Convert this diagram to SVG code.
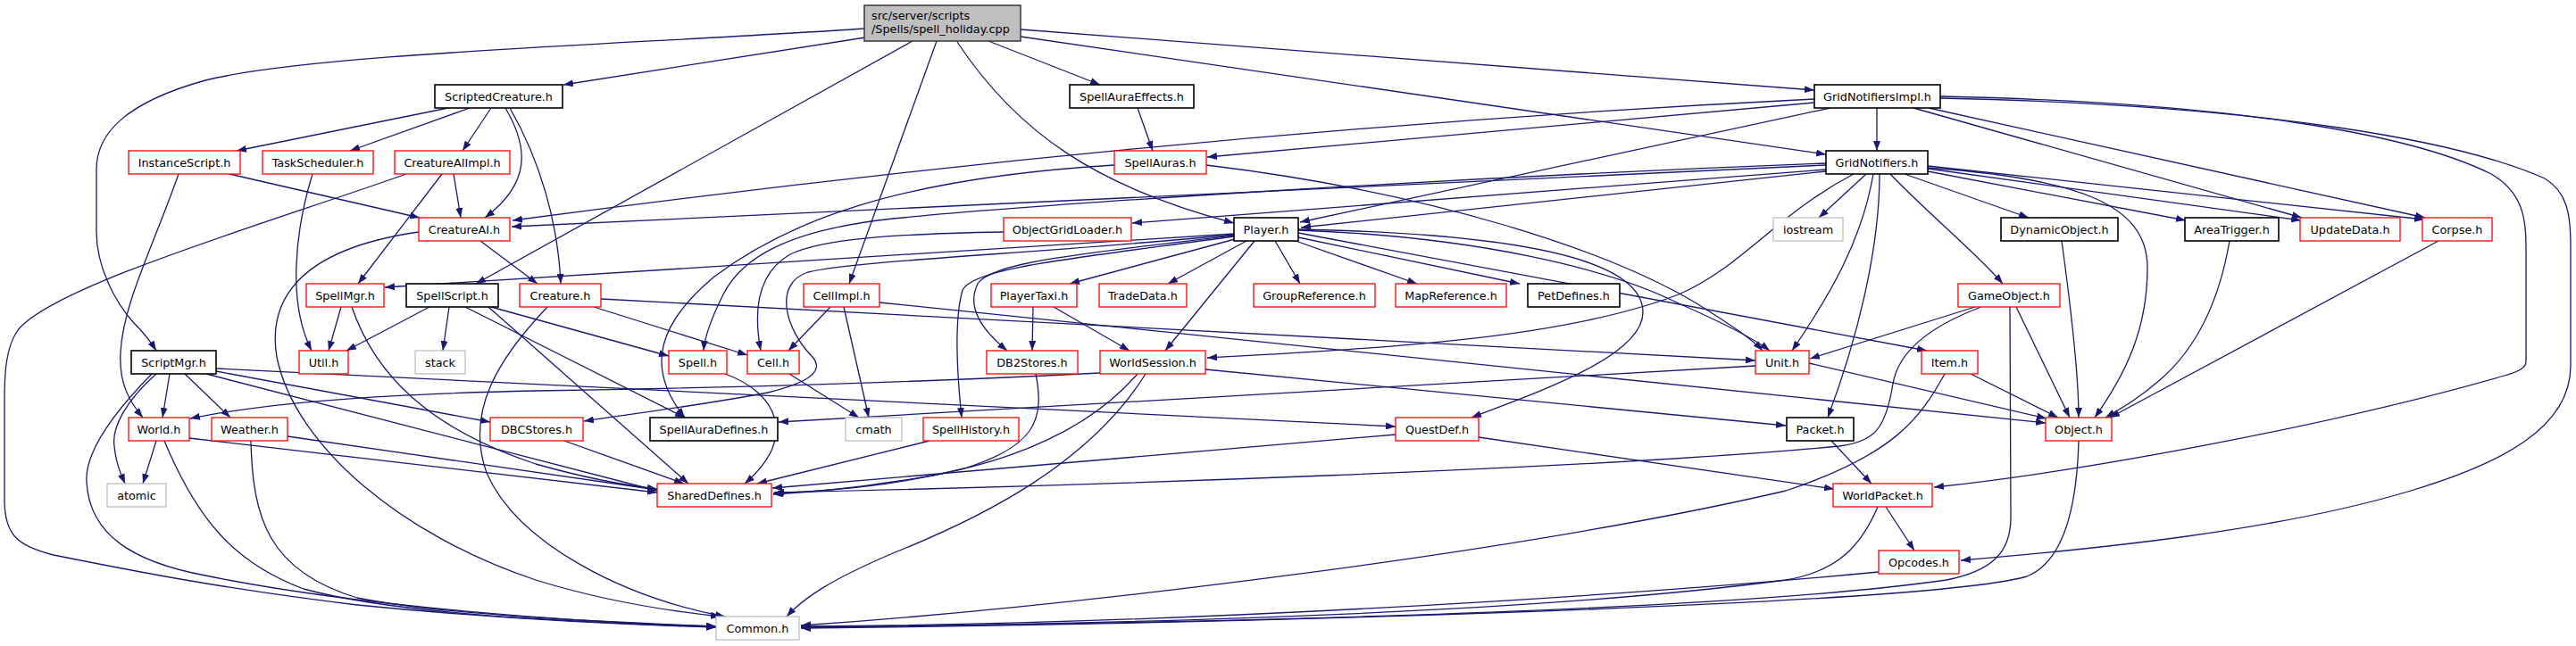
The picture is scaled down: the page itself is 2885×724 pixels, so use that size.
<svg xmlns="http://www.w3.org/2000/svg" width="2885" height="724" viewBox="0 0 2885 724">
<defs>
<marker id="ah" markerUnits="userSpaceOnUse" markerWidth="11" markerHeight="8" refX="11" refY="4" orient="auto" viewBox="0 0 11 8"><path d="M0,0 L11,4 L0,8 Z" fill="#191970"/></marker>
<style>
.n{fill:#fff;stroke-width:1.3}
.k{stroke:#000;stroke-width:1.6}
.r{stroke:#ff0000}
.g{stroke:#bfbfbf}
.root{fill:#bfbfbf;stroke:#404040;stroke-width:1.6}
text{font-family:"DejaVu Sans","Liberation Sans",sans-serif;font-size:12.8px;fill:#000;text-anchor:middle}
.e path{fill:none;stroke:#191970;stroke-width:1.3;marker-end:url(#ah)}
</style>
</defs>
<rect width="2885" height="724" fill="#fff"/>
<g id="connectors" class="e">
<path d="M969,42 L631,95"/>
<path d="M969,32 C700,50 350,60 230,90 C140,115 108,150 108,190 L108,260 C108,300 130,340 150,362 C163,375 170,385 175,393"/>
<path d="M1022,46 L533,318"/>
<path d="M1049,46 L951,318"/>
<path d="M1072,47 C1140,150 1230,210 1382,250"/>
<path d="M1107,46 L1232,95"/>
<path d="M1143,33 L2032,101"/>
<path d="M1143,41 L2045,173"/>
<path d="M502,121 L265,169"/>
<path d="M526,121 L392,169"/>
<path d="M550,121 L518,169"/>
<path d="M566,121 C592,165 595,205 543,244"/>
<path d="M571,121 C605,180 625,250 628,318"/>
<path d="M257,195 L470,244"/>
<path d="M200,195 C170,280 138,340 135,395 C133,430 145,450 160,468"/>
<path d="M350,195 C330,260 322,340 349,393"/>
<path d="M508,195 L516,244"/>
<path d="M495,195 L401,318"/>
<path d="M455,195 C300,250 60,320 20,370 C6,390 5,420 5,450 L5,560 C5,600 20,612 60,622 C150,640 250,660 400,678 C550,693 700,700 802,703"/>
<path d="M538,270 L602,318"/>
<path d="M469,260 C330,280 300,340 310,400 C330,500 450,600 600,650 C680,675 760,686 807,691"/>
<path d="M613,344 C560,400 520,460 545,530 C580,610 700,670 812,691"/>
<path d="M665,344 L837,398"/>
<path d="M673,335 L1966,404"/>
<path d="M382,344 L368,393"/>
<path d="M394,344 C420,420 480,480 600,520 C660,537 700,544 736,548"/>
<path d="M481,344 L388,393"/>
<path d="M503,344 L496,393"/>
<path d="M521,344 L767,468"/>
<path d="M547,344 L771,542"/>
<path d="M550,344 L749,399"/>
<path d="M190,419 L182,468"/>
<path d="M207,419 L258,468"/>
<path d="M175,419 C140,450 125,480 128,500 C130,520 135,530 140,542"/>
<path d="M170,419 C120,470 95,510 97,540 C100,600 150,630 230,645 C400,680 650,698 802,702"/>
<path d="M242,416 L549,473"/>
<path d="M231,419 L736,550"/>
<path d="M242,413 L1563,478"/>
<path d="M175,494 L160,542"/>
<path d="M212,491 L736,552"/>
<path d="M184,494 C220,580 260,630 340,660 C450,690 650,697 802,703"/>
<path d="M322,489 L736,549"/>
<path d="M281,494 C283,580 300,640 400,670 C500,690 700,698 802,702"/>
<path d="M632,494 L766,542"/>
<path d="M812,419 C870,440 895,490 834,542"/>
<path d="M884,419 L962,468"/>
<path d="M930,344 L883,393"/>
<path d="M945,344 L973,468"/>
<path d="M985,339 L2291,474"/>
<path d="M1124,260 C1000,262 920,268 885,285 C850,305 843,345 852,393"/>
<path d="M1382,262 L431,322"/>
<path d="M1382,263 C1150,285 960,292 905,305 C865,318 880,370 910,400 C925,418 900,430 860,440 C780,455 700,465 654,472"/>
<path d="M1382,264 C1200,285 1110,295 1095,318 C1082,345 1100,370 1128,393"/>
<path d="M1382,265 C1200,290 1090,300 1078,325 C1068,360 1072,420 1077,468"/>
<path d="M1383,268 L1198,318"/>
<path d="M1396,270 L1308,318"/>
<path d="M1405,270 L1305,393"/>
<path d="M1428,270 L1456,318"/>
<path d="M1451,270 L1587,318"/>
<path d="M1454,266 L1702,318"/>
<path d="M1454,258 C1650,265 1800,300 1880,340 C1930,362 1965,380 1982,393"/>
<path d="M1454,261 L2158,393"/>
<path d="M1454,257 C1700,262 1840,290 1840,350 C1840,400 1720,440 1648,468"/>
<path d="M1274,121 L1291,169"/>
<path d="M1248,185 C1000,200 880,250 800,310 C740,360 720,410 767,468"/>
<path d="M1351,185 C1600,215 1800,280 1900,340 C1940,365 1962,380 1974,393"/>
<path d="M2102,121 L2102,169"/>
<path d="M2050,121 L1456,249"/>
<path d="M2032,115 L1352,176"/>
<path d="M2032,111 C1650,130 1150,170 574,247"/>
<path d="M2143,121 L2578,244"/>
<path d="M2160,121 L2716,244"/>
<path d="M2173,108 C2500,115 2700,150 2790,195 C2825,215 2829,245 2829,275 L2829,405 C2829,412 2822,416 2805,421 C2600,480 2320,530 2166,546"/>
<path d="M2173,110 C2550,118 2760,160 2850,200 C2875,215 2879,240 2879,275 L2879,410 C2879,480 2800,520 2700,550 C2550,595 2350,615 2196,628"/>
<path d="M2045,192 L1457,255"/>
<path d="M2045,185 L573,254"/>
<path d="M2045,190 L1268,250"/>
<path d="M2045,183 C1600,200 1150,230 1000,245 C880,258 830,290 810,330 C795,360 789,380 788,393"/>
<path d="M2076,195 C1990,240 1950,300 1880,330 C1750,380 1550,390 1352,401"/>
<path d="M2090,195 L2037,244"/>
<path d="M2098,195 C2085,270 2050,330 2007,393"/>
<path d="M2105,195 C2105,280 2080,380 2047,468"/>
<path d="M2117,195 C2160,240 2215,285 2243,318"/>
<path d="M2133,195 L2272,244"/>
<path d="M2159,188 C2330,200 2405,230 2405,300 C2405,370 2380,420 2346,468"/>
<path d="M2159,192 L2448,247"/>
<path d="M2159,189 L2577,247"/>
<path d="M2159,186 L2715,246"/>
<path d="M2309,270 C2320,350 2328,420 2328,468"/>
<path d="M2497,270 C2485,340 2460,390 2420,425 C2395,447 2375,458 2358,468"/>
<path d="M2731,270 L2363,468"/>
<path d="M2212,344 L2027,402"/>
<path d="M2219,344 C2150,370 2125,400 2120,430 C2112,480 2100,495 2060,500 C1800,525 1200,545 867,552"/>
<path d="M2258,344 L2318,468"/>
<path d="M2251,344 L2252,580 C2252,620 2230,640 2180,650 C1900,690 1200,700 897,703"/>
<path d="M2207,419 L2305,468"/>
<path d="M2178,419 C2150,470 2120,510 2000,550 C1700,620 1200,680 897,701"/>
<path d="M1966,410 L872,473"/>
<path d="M2026,407 L2292,469"/>
<path d="M1563,487 L865,547"/>
<path d="M1656,490 L2054,548"/>
<path d="M2051,494 L2096,542"/>
<path d="M1232,418 C1000,430 800,435 600,438 C400,442 280,455 213,469"/>
<path d="M1274,419 C1230,470 1150,520 1000,540 C950,548 900,552 866,554"/>
<path d="M1283,419 C1220,520 1100,580 1000,620 C930,650 900,670 881,691"/>
<path d="M1350,414 L2000,477"/>
<path d="M1157,344 L1156,393"/>
<path d="M1180,344 L1265,393"/>
<path d="M1160,419 C1170,470 1160,500 1080,525 C1000,545 930,550 866,553"/>
<path d="M1041,494 L848,542"/>
<path d="M2112,568 L2144,617"/>
<path d="M2103,568 C2085,610 2060,640 2000,650 C1700,690 1200,700 897,703"/>
<path d="M2104,641 C1800,670 1300,700 897,702"/>
<path d="M2328,494 C2326,570 2310,630 2270,646 C2150,680 1300,700 897,704"/>
</g>
<g id="node-root"><rect class="root" x="968" y="6" width="175" height="40"/><text x="976" y="22" style="text-anchor:start">src/server/scripts</text><text x="976" y="37" style="text-anchor:start">/Spells/spell_holiday.cpp</text></g>
<g id="node-ScriptedCreature"><rect class="n k" x="487" y="95" width="143" height="26"/><text x="558.5" y="112.6">ScriptedCreature.h</text></g>
<g id="node-SpellAuraEffects"><rect class="n k" x="1198" y="95" width="139" height="26"/><text x="1267.5" y="112.6">SpellAuraEffects.h</text></g>
<g id="node-GridNotifiersImpl"><rect class="n k" x="2032" y="95" width="141" height="26"/><text x="2102.5" y="112.6">GridNotifiersImpl.h</text></g>
<g id="node-InstanceScript"><rect class="n r" x="144" y="169" width="125" height="26"/><text x="206.5" y="186.6">InstanceScript.h</text></g>
<g id="node-TaskScheduler"><rect class="n r" x="294" y="169" width="124" height="26"/><text x="356" y="186.6">TaskScheduler.h</text></g>
<g id="node-CreatureAIImpl"><rect class="n r" x="442" y="169" width="129" height="26"/><text x="506.5" y="186.6">CreatureAIImpl.h</text></g>
<g id="node-SpellAuras"><rect class="n r" x="1248" y="169" width="103" height="26"/><text x="1299.5" y="186.6">SpellAuras.h</text></g>
<g id="node-GridNotifiers"><rect class="n k" x="2045" y="169" width="114" height="26"/><text x="2102" y="186.6">GridNotifiers.h</text></g>
<g id="node-CreatureAI"><rect class="n r" x="469" y="244" width="102" height="26"/><text x="520" y="261.6">CreatureAI.h</text></g>
<g id="node-ObjectGridLoader"><rect class="n r" x="1124" y="244" width="143" height="26"/><text x="1195.5" y="261.6">ObjectGridLoader.h</text></g>
<g id="node-Player"><rect class="n k" x="1382" y="244" width="72" height="26"/><text x="1418" y="261.6">Player.h</text></g>
<g id="node-iostream"><rect class="n g" x="1986" y="244" width="78" height="26"/><text x="2025" y="261.6">iostream</text></g>
<g id="node-DynamicObject"><rect class="n k" x="2241" y="244" width="131" height="26"/><text x="2306.5" y="261.6">DynamicObject.h</text></g>
<g id="node-AreaTrigger"><rect class="n k" x="2447" y="244" width="105" height="26"/><text x="2499.5" y="261.6">AreaTrigger.h</text></g>
<g id="node-UpdateData"><rect class="n r" x="2576" y="244" width="112" height="26"/><text x="2632" y="261.6">UpdateData.h</text></g>
<g id="node-Corpse"><rect class="n r" x="2713" y="244" width="78" height="26"/><text x="2752" y="261.6">Corpse.h</text></g>
<g id="node-SpellMgr"><rect class="n r" x="343" y="318" width="87" height="26"/><text x="386.5" y="335.6">SpellMgr.h</text></g>
<g id="node-SpellScript"><rect class="n k" x="455" y="318" width="103" height="26"/><text x="506.5" y="335.6">SpellScript.h</text></g>
<g id="node-Creature"><rect class="n r" x="582" y="318" width="91" height="26"/><text x="627.5" y="335.6">Creature.h</text></g>
<g id="node-CellImpl"><rect class="n r" x="900" y="318" width="85" height="26"/><text x="942.5" y="335.6">CellImpl.h</text></g>
<g id="node-PlayerTaxi"><rect class="n r" x="1110" y="318" width="96" height="26"/><text x="1158" y="335.6">PlayerTaxi.h</text></g>
<g id="node-TradeData"><rect class="n r" x="1231" y="318" width="98" height="26"/><text x="1280" y="335.6">TradeData.h</text></g>
<g id="node-GroupReference"><rect class="n r" x="1404" y="318" width="136" height="26"/><text x="1472" y="335.6">GroupReference.h</text></g>
<g id="node-MapReference"><rect class="n r" x="1563" y="318" width="124" height="26"/><text x="1625" y="335.6">MapReference.h</text></g>
<g id="node-PetDefines"><rect class="n k" x="1711" y="318" width="103" height="26"/><text x="1762.5" y="335.6">PetDefines.h</text></g>
<g id="node-GameObject"><rect class="n r" x="2193" y="318" width="114" height="26"/><text x="2250" y="335.6">GameObject.h</text></g>
<g id="node-ScriptMgr"><rect class="n k" x="147" y="393" width="95" height="26"/><text x="194.5" y="410.6">ScriptMgr.h</text></g>
<g id="node-Util"><rect class="n r" x="335" y="393" width="55" height="26"/><text x="362.5" y="410.6">Util.h</text></g>
<g id="node-stack"><rect class="n g" x="465" y="393" width="56" height="26"/><text x="493" y="410.6">stack</text></g>
<g id="node-Spell"><rect class="n r" x="749" y="393" width="65" height="26"/><text x="781.5" y="410.6">Spell.h</text></g>
<g id="node-Cell"><rect class="n r" x="837" y="393" width="58" height="26"/><text x="866" y="410.6">Cell.h</text></g>
<g id="node-DB2Stores"><rect class="n r" x="1105" y="393" width="102" height="26"/><text x="1156" y="410.6">DB2Stores.h</text></g>
<g id="node-WorldSession"><rect class="n r" x="1232" y="393" width="118" height="26"/><text x="1291" y="410.6">WorldSession.h</text></g>
<g id="node-Unit"><rect class="n r" x="1966" y="393" width="60" height="26"/><text x="1996" y="410.6">Unit.h</text></g>
<g id="node-Item"><rect class="n r" x="2152" y="393" width="63" height="26"/><text x="2183.5" y="410.6">Item.h</text></g>
<g id="node-World"><rect class="n r" x="144" y="468" width="68" height="26"/><text x="178" y="485.6">World.h</text></g>
<g id="node-Weather"><rect class="n r" x="237" y="468" width="85" height="26"/><text x="279.5" y="485.6">Weather.h</text></g>
<g id="node-DBCStores"><rect class="n r" x="549" y="468" width="104" height="26"/><text x="601" y="485.6">DBCStores.h</text></g>
<g id="node-SpellAuraDefines"><rect class="n k" x="728" y="468" width="143" height="26"/><text x="799.5" y="485.6">SpellAuraDefines.h</text></g>
<g id="node-cmath"><rect class="n g" x="947" y="468" width="63" height="26"/><text x="978.5" y="485.6">cmath</text></g>
<g id="node-SpellHistory"><rect class="n r" x="1034" y="468" width="107" height="26"/><text x="1087.5" y="485.6">SpellHistory.h</text></g>
<g id="node-QuestDef"><rect class="n r" x="1563" y="468" width="93" height="26"/><text x="1609.5" y="485.6">QuestDef.h</text></g>
<g id="node-Packet"><rect class="n k" x="2001" y="468" width="75" height="26"/><text x="2038.5" y="485.6">Packet.h</text></g>
<g id="node-Object"><rect class="n r" x="2291" y="468" width="74" height="26"/><text x="2328" y="485.6">Object.h</text></g>
<g id="node-atomic"><rect class="n g" x="120" y="542" width="66" height="26"/><text x="153" y="559.6">atomic</text></g>
<g id="node-SharedDefines"><rect class="n r" x="736" y="542" width="128" height="26"/><text x="800" y="559.6">SharedDefines.h</text></g>
<g id="node-WorldPacket"><rect class="n r" x="2053" y="542" width="111" height="26"/><text x="2108.5" y="559.6">WorldPacket.h</text></g>
<g id="node-Opcodes"><rect class="n r" x="2104" y="617" width="90" height="26"/><text x="2149" y="634.6">Opcodes.h</text></g>
<g id="node-Common"><rect class="n g" x="802" y="691" width="93" height="26"/><text x="848.5" y="708.6">Common.h</text></g>
</svg>
